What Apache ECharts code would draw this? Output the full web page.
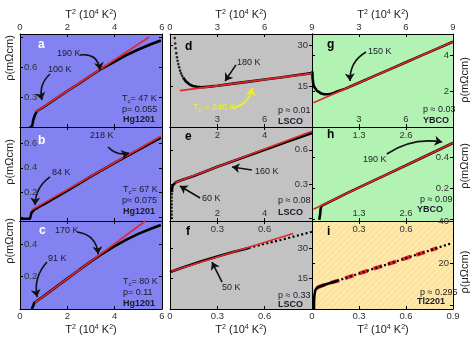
<!DOCTYPE html>
<html><head><meta charset="utf-8">
<script src="https://cdn.jsdelivr.net/npm/echarts@6/dist/echarts.min.js"></script>
<style>html,body{margin:0;padding:0;background:#fff}#c{width:474px;height:355px}</style>
</head><body><div id="c"></div><script>
// ---------------- data (x = T^2 in 10^4 K^2) ----------------
const aBlack = [[0.40,0],[0.50,0],[0.53,0.03],[0.56,0.07],[0.63,0.12],[0.72,0.16],[1.0,0.2],[1.5,0.28],[2.0,0.36],[2.5,0.435],[3.0,0.515],[3.5,0.59],[4.0,0.655],[4.5,0.72],[5.0,0.775],[5.5,0.825],[5.95,0.865]];
const aRed = [[0.68,0.155],[5.46,0.9]];
const bBlack = [[0,-0.012],[0.42,-0.012],[0.45,0.01],[0.48,0.035],[0.52,0.05],[0.6,0.062],[0.8,0.085],[1,0.105],[2,0.215],[3,0.33],[4,0.44],[5,0.545],[5.95,0.645]];
const bRed = [[0.5,0.06],[5.95,0.655]];
const cBlack = [[0.5,0],[0.56,0],[0.57,0.025],[0.6,0.038],[0.7,0.048],[1,0.08],[1.5,0.134],[2,0.188],[2.5,0.242],[3,0.295],[3.4,0.335],[4,0.39],[4.5,0.43],[5,0.465],[5.5,0.495],[5.95,0.52]];
const cRed = [[0.63,0.04],[5.3,0.545]];
const dBlackSparse = [[0.30,32.5],[0.33,30.5],[0.36,28.8],[0.40,27],[0.44,25.5],[0.48,24.2],[0.53,23],[0.58,21.8],[0.64,20.6],[0.7,19.6],[0.77,18.7],[0.85,17.9]];
const dBlack = [[0.85,17.9],[0.93,17.2],[1.0,16.7],[1.1,16.1],[1.25,15.5],[1.45,15.0],[1.7,14.7],[2.0,14.55],[2.5,14.75],[3,15.1],[4,15.85],[5,16.6],[6,17.35],[7,18.1],[8,18.9],[9,19.7]];
const dRed = [[0.63,13.3],[9,19.6]];
const eBlackSparse = [[0.07,0.0],[0.07,0.03],[0.07,0.06],[0.07,0.09],[0.07,0.12],[0.07,0.15],[0.07,0.18],[0.075,0.21],[0.08,0.235]];
const eBlack = [[0.08,0.235],[0.09,0.26],[0.11,0.285],[0.15,0.3],[0.25,0.315],[0.5,0.335],[1,0.37],[2,0.45],[3,0.525],[4,0.6],[5,0.675],[6,0.748]];
const eRed = [[0.2,0.31],[6,0.762]];
const fBlack = [[0,18.3],[0.1,21],[0.2,23.6],[0.3,26],[0.4,28.2],[0.5,30.2]];
const fBlackTail = [[0.5,30.2],[0.6,32.2],[0.7,34.1],[0.8,36.1],[0.9,38.2]];
const fRed = [[0.01,18.7],[0.78,37.3]];
const gBlack = [[0.02,3.1],[0.04,2.7],[0.08,2.4],[0.13,2.25],[0.19,2.15],[0.3,2.03],[0.4,1.96],[0.55,1.88],[0.72,1.83],[0.95,1.82],[1.15,1.83],[1.35,1.88],[1.57,1.96],[1.8,2.03],[2.1,2.12],[3,2.46],[4,2.84],[5,3.22],[6,3.6],[7,3.98],[8,4.36],[9,4.74]];
const gRed = [[0.09,1.35],[9,4.74]];
const hBlack = [[0.2,-0.005],[0.22,0.0],[0.225,0.03],[0.235,0.06],[0.26,0.085],[0.3,0.095],[1,0.17],[2,0.28],[3,0.39],[3.9,0.49]];
const hRed = [[0.04,0.063],[3.9,0.49]];
const iBlackKnee = [[0.013,-1.7],[0.013,2],[0.015,4.5],[0.02,7],[0.03,8.2],[0.05,9.0],[0.1,10.3],[0.16,11.6]];
const iBlack = [[0.16,11.6],[0.2,12.6],[0.3,15.1],[0.41,17.8],[0.52,20.4],[0.62,22.9],[0.73,25.5],[0.83,28],[0.885,29.3]];
const iRed = [[0.03,8.2],[0.05,9.0],[0.1,10.3],[0.16,11.6],[0.2,12.6],[0.3,15.1],[0.41,17.8],[0.52,20.4],[0.62,22.9],[0.73,25.5],[0.8,27.2]];

// tick values / tick labels
const xTicksHg = [0,2,4,6];
const xTicks9 = [0,3,6,9];
const xTicks6 = [0,2,4,6];
const xTicks09 = [0,0.3,0.6,0.9];
const xTicks39 = [0,1.3,2.6,3.9];
const yTicksA = [0.3,0.6,0.9], yLabA = [0.3,0.6];
const yTicksB = [0,0.2,0.4,0.6], yLabB = [0.2,0.4,0.6];
const yTicksC = [0.2,0.4], yLabC = [0.2,0.4];
const yTicksD = [15,30], yLabD = [15,30];
const yTicksE = [0,0.3,0.6], yLabE = [0.3,0.6];
const yTicksF = [15,30], yLabF = [15,30];
const yTicksG = [2,4], yLabG = [2,4];
const yTicksH = [0,0.2,0.4], yLabH = [0.2,0.4];
const yTicksI = [0,20,40], yLabI = [20,40];

// arrows (data coords) [from, to, curveness]
const arrowsA = [[[2.535,0.72],[3.38,0.57],0.5],[[1.27,0.53],[0.93,0.27],-0.3]];
const arrowsB = [[[3.72,0.568],[4.605,0.52],-0.3],[[1.27,0.326],[0.634,0.099],-0.25]];
const arrowsC = [[[2.41,0.477],[3.3,0.34],0.4],[[1.14,0.291],[0.72,0.074],-0.25]];
const arrowsD = [[[4.18,22.7],[3.49,16.8],0]];
const arrowsDYellow = [[[3.93,6.95],[5.2,14.26],-0.35]];
const arrowsE = [[[3.46,0.422],[2.62,0.449],0],[[1.27,0.176],[0.42,0.282],0]];
const arrowsF = [[[0.33,13.3],[0.266,23.2],0]];
const arrowsG = [[[3.45,4.17],[2.43,2.56],-0.3]];
const arrowsH = [[[2.07,0.419],[3.6,0.496],0.2]];

// ---------------- layout ----------------
const FONT = '"Liberation Sans", Arial, sans-serif';
const BLUE = '#8282f0', GRAY = '#c2c2c2', GREEN = '#b2f2b2', YEL = '#fbe3a3';
const RED = '#e3262e';
const cols = [[20,142],[170,142],[312,141]];
const rows = [[34,93],[127,94],[221,88]];

const pc = document.createElement('canvas'); pc.width = 6; pc.height = 6;
const g2 = pc.getContext('2d');
g2.fillStyle = YEL; g2.fillRect(0,0,6,6);
g2.strokeStyle = 'rgba(255,255,255,0.45)'; g2.lineWidth = 1;
g2.beginPath(); g2.moveTo(-1,7); g2.lineTo(7,-1); g2.moveTo(-4,4); g2.lineTo(4,-4); g2.moveTo(2,10); g2.lineTo(10,2); g2.stroke();
const HATCH = {image: pc, repeat: 'repeat'};

const panels = [
 {c:0,r:0,xr:[0,6],yr:[0,0.93],xt:xTicksHg,yt:yTicksA,yl:yLabA,top:{v:xTicksHg,inside:false},bot:null,bg:BLUE,ys:'left',
  series:[['k',aBlack],['r',aRed]],arrows:arrowsA},
 {c:0,r:1,xr:[0,6],yr:[-0.03,0.73],xt:xTicksHg,yt:yTicksB,yl:yLabB,top:null,bot:null,bg:BLUE,ys:'left',
  series:[['k',bBlack],['r',bRed]],arrows:arrowsB},
 {c:0,r:2,xr:[0,6],yr:[0,0.545],xt:xTicksHg,yt:yTicksC,yl:yLabC,top:null,bot:{v:xTicksHg,inside:false},bg:BLUE,ys:'left',
  series:[['k',cBlack],['r',cRed]],arrows:arrowsC},
 {c:1,r:0,xr:[0,9],yr:[0,34],xt:xTicks9,yt:yTicksD,yl:yLabD,top:{v:[0,3,6,9],inside:false},bot:{v:[3,6],inside:true},bg:GRAY,ys:'right',
  series:[['dots',dBlackSparse],['k',dBlack],['r',dRed]],arrows:arrowsD,yarrows:arrowsDYellow},
 {c:1,r:1,xr:[0,6],yr:[-0.026,0.8],xt:xTicks6,yt:yTicksE,yl:yLabE,top:{v:[2,4],inside:true},bot:{v:[2,4],inside:true},bg:GRAY,ys:'right',
  series:[['dots',eBlackSparse],['k',eBlack],['r',eRed]],arrows:arrowsE},
 {c:1,r:2,xr:[0,0.9],yr:[0,43.5],xt:xTicks09,yt:yTicksF,yl:yLabF,top:{v:[0.3,0.6],inside:true},bot:{v:[0,0.3,0.6],inside:false},bg:GRAY,ys:'right',
  series:[['k',fBlack],['kd',fBlackTail],['r',fRed]],arrows:arrowsF},
 {c:2,r:0,xr:[0,9],yr:[0,5.17],xt:xTicks9,yt:yTicksG,yl:yLabG,top:{v:[3,6,9],inside:false},bot:{v:[3,6],inside:true},bg:GREEN,ys:'right',
  series:[['k',gBlack],['r',gRed]],arrows:arrowsG},
 {c:2,r:1,xr:[0,3.9],yr:[-0.013,0.593],xt:xTicks39,yt:yTicksH,yl:yLabH,top:{v:[1.3,2.6],inside:true},bot:{v:[1.3,2.6],inside:true},bg:GREEN,ys:'right',
  series:[['k',hBlack],['r',hRed]],arrows:arrowsH},
 {c:2,r:2,xr:[0,0.9],yr:[-1.7,40],xt:xTicks09,yt:yTicksI,yl:yLabI,top:{v:[0.3,0.6],inside:true},bot:{v:[0,0.3,0.6,0.9],inside:false},bg:HATCH,ys:'right',
  series:[['rd',iRed],['k',iBlackKnee],['kd',iBlack]],arrows:[]}
];

const grid=[], xAxis=[], yAxis=[], series=[];
panels.forEach((p,gi)=>{
  grid.push({left:cols[p.c][0], width:cols[p.c][1], top:rows[p.r][0], height:rows[p.r][1],
    show:true, backgroundColor:p.bg, borderWidth:0, containLabel:false});
  ['bottom','top'].forEach(pos=>{
    const L = pos==='top'?p.top:p.bot;
    xAxis.push({type:'value', gridIndex:gi, position:pos, min:p.xr[0], max:p.xr[1],
      axisLine:{show:true,onZero:false,lineStyle:{color:'#000',width:1}},
      axisTick:{show:true,inside:true,length:3,customValues:p.xt,lineStyle:{color:'#000'}},
      axisLabel: L?{show:true,inside:L.inside,customValues:L.v,margin:L.inside?3:2,fontSize:9.5,color:'#333',fontFamily:FONT,formatter:v=>String(v)}:{show:false},
      splitLine:{show:false}});
  });
  const sides = p.ys==='left'?['left','right']:['right','left'];
  sides.forEach((pos,k)=>{
    yAxis.push({type:'value', gridIndex:gi, position:pos, min:p.yr[0], max:p.yr[1],
      axisLine:{show:true,onZero:false,lineStyle:{color:'#000',width:1}},
      axisTick:{show:true,inside:true,length:3,customValues:p.yt,lineStyle:{color:'#000'}},
      axisLabel: k===0?{show:true,inside:true,customValues:p.yl,margin:4,fontSize:9.5,color:'#333',fontFamily:FONT,formatter:v=>String(v)}:{show:false},
      splitLine:{show:false}});
  });
  const xi = gi*2, yi = gi*2;
  p.series.forEach(([kind,data])=>{
    const base = {xAxisIndex:xi, yAxisIndex:yi, data:data, silent:true, animation:false};
    if(kind==='dots') series.push(Object.assign(base,{type:'scatter',symbol:'circle',symbolSize:2.6,itemStyle:{color:'#000'},z:2}));
    else if(kind==='k') series.push(Object.assign(base,{type:'line',showSymbol:false,lineStyle:{color:'#000',width:2.6},z:2}));
    else if(kind==='kd') series.push(Object.assign(base,{type:'line',showSymbol:false,lineStyle:{color:'#000',width:2.2,type:[2,2.5]},z:3}));
    else if(kind==='r') series.push(Object.assign(base,{type:'line',showSymbol:false,lineStyle:{color:RED,width:1.6},z:3}));
    else if(kind==='rd') series.push(Object.assign(base,{type:'line',showSymbol:false,lineStyle:{color:RED,width:3.8,type:[9,6]},z:2}));
  });
  const addArrows=(list,color)=>{ if(!list||!list.length) return;
    series.push({type:'lines',coordinateSystem:'cartesian2d',xAxisIndex:xi,yAxisIndex:yi,silent:true,animation:false,
      symbol:['none','arrow'],symbolSize:7.5,z:5,
      data:list.map(a=>({coords:[a[0],a[1]],lineStyle:{curveness:a[2]}})),
      lineStyle:{color:color,width:1.6,opacity:1}});
  };
  addArrows(p.arrows,'#111');
  addArrows(p.yarrows,'#f0f020');
});

// ---------------- texts ----------------
const T = (x,y,text,o)=>({type:'text',x:x,y:y,silent:true,style:Object.assign({text:text,fill:'#1a1a2a',font:'9px '+FONT,textVerticalAlign:'middle'},o||{})});
const richTc = (x,y,val)=>({type:'text',x:x,y:y,silent:true,style:{text:'{m|T}{s|c}{m|= '+val+' K}',textVerticalAlign:'middle',
  rich:{m:{fontSize:9,fontFamily:FONT,fill:'#1a1a2a',lineHeight:11},s:{fontSize:6,fontFamily:FONT,fill:'#1a1a2a',verticalAlign:'bottom',lineHeight:11}}}});
const title = (x,y)=>({type:'text',x:x,y:y,silent:true,style:{text:'{m|T}{s|2}{m| (10}{s|4}{m| K}{s|2}{m|)}',textAlign:'center',textVerticalAlign:'middle',
  rich:{m:{fontSize:11,fontFamily:FONT,fill:'#222',lineHeight:13},s:{fontSize:7,fontFamily:FONT,fill:'#222',verticalAlign:'top',lineHeight:13}}}});
const ytitle = (x,y,unit)=>({type:'text',x:x,y:y,rotation:Math.PI/2,silent:true,style:{text:'ρ('+unit+'Ωcm)',textAlign:'center',textVerticalAlign:'middle',font:'11px '+FONT,fill:'#222'}});
const B = {font:'bold 9px '+FONT};
const letter = (x,y,t,c)=>T(x,y,t,{font:'bold 12px '+FONT,fill:c});

const graphics = [
  title(91,15), title(241,15), title(383,15),
  title(91,330), title(241,330), title(383,330),
  ytitle(10,58,'m'), ytitle(10,162,'m'), ytitle(10,241,'m'),
  ytitle(465,80,'m'), ytitle(465,166,'m'), ytitle(465,272,'μ'),
  // a
  letter(38,45,'a','#fff'), T(57,54,'190 K'), T(48,70,'100 K'), richTc(122,99,'47'), T(122,110,'p= 0.055'), T(123,120,'Hg1201',B),
  // b
  letter(38,141,'b','#fff'), T(90,136,'218 K'), T(52,173,'84 K'), richTc(123,190,'67'), T(122,201,'p≈ 0.075'), T(123,212,'Hg1201',B),
  // c
  letter(39,231,'c','#fff'), T(55,231,'170 K'), T(48,259,'91 K'), richTc(123,282,'80'), T(123,293,'p= 0.11'), T(123,304,'Hg1201',B),
  // d
  letter(185,47,'d','#000'), T(237,63,'180 K'),
  {type:'text',x:193,y:108,silent:true,style:{text:'{m|T}{s|0}{m| = 240 K}',textVerticalAlign:'middle',
    rich:{m:{fontSize:9,fontFamily:FONT,fill:'#f0f020',lineHeight:11},s:{fontSize:6,fontFamily:FONT,fill:'#f0f020',verticalAlign:'bottom',lineHeight:11}}}},
  T(278,111,'p ≈ 0.01'), T(278,122,'LSCO',B),
  // e
  letter(185,137,'e','#000'), T(255,172,'160 K'), T(202,199,'60 K'), T(278,201,'p ≈ 0.08'), T(278,213,'LSCO',B),
  // f
  letter(186,232,'f','#000'), T(222,288,'50 K'), T(278,296,'p ≈ 0.33'), T(278,305,'LSCO',B),
  // g
  letter(327,45,'g','#000'), T(368,52,'150 K'), T(423,110,'p ≈ 0.03'), T(423,121,'YBCO',B),
  // h
  letter(327,135,'h','#000'), T(363,160,'190 K'), T(420,200,'p ≈ 0.09'), T(417,210,'YBCO',B),
  // i
  letter(327,232,'i','#000'), T(420,293,'p ≈ 0.295'), T(417,302,'Tl2201',B)
];

const chart = echarts.init(document.getElementById('c'), null, {renderer:'canvas'});
chart.setOption({animation:false, backgroundColor:'#fff', grid, xAxis, yAxis, series, graphic:{elements:graphics}});
</script></body></html>
